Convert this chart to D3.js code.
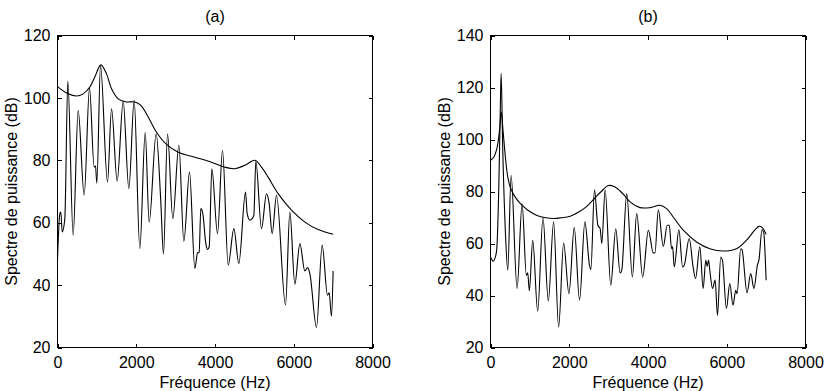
<!DOCTYPE html>
<html>
<head>
<meta charset="utf-8">
<script src="https://cdn.jsdelivr.net/npm/d3@7"></script>
<style>
  body { margin: 0; background: #fff; }
  text { font-family: "Liberation Sans", Arial, Helvetica, sans-serif; font-size: 16px; fill: #000; }
</style>
</head>
<body>
<div id="plot"></div>
<script>
// tick values
var xTicks = [0, 2000, 4000, 6000, 8000];
var yTicksA = [20, 40, 60, 80, 100, 120];
var yTicksB = [20, 40, 60, 80, 100, 120, 140];

// panel (a) : spectre FFT
var freqA = [0,59,85,119,186,262,398,525,677,813,931,965,999,1092,1270,1372,1515,1668,1812,1947,2091,2227,2328,2506,2624,2692,2794,2929,3082,3209,3353,3488,3556,3598,3640,3691,3767,3810,3852,3920,4064,4191,4335,4479,4605,4775,4817,4885,4944,4987,5037,5181,5308,5376,5452,5562,5791,5901,6028,6155,6282,6350,6409,6578,6722,6857,6900,6959,7000];
var specA = [48,62.9,63.4,57,61.3,105.3,56,96,68.8,103.2,77.8,78.2,72.7,110.4,73,96.5,73.3,98.9,70.9,99.2,51.7,89,60.2,88.5,66.6,49.9,88.5,61.3,84.8,54,76.2,45.3,50.3,50.6,64.5,62.9,53.3,51.4,52.2,77.3,56.5,83.2,46.4,58.1,46.9,69.8,62.9,60.8,61.3,62.4,79.7,58.1,69.3,66.1,56.5,68.8,33.6,63.4,40.3,53.3,44.5,45.6,43.7,26.4,52.8,36.8,37.5,30,44.5];
// panel (a) : enveloppe LPC
var envFreqA = [0,271,483,652,821,948,1101,1245,1372,1541,1752,1964,2117,2303,2514,2768,3065,3488,3911,4250,4504,4758,5012,5181,5350,5604,5943,6282,6620,7000];
var envA = [103.6,101.3,100.6,101.3,103.5,106.7,110.6,107.7,102.9,99.7,98.7,98.7,97.6,93.9,89.0,85.1,82.6,81.0,79.4,77.8,77.3,78.4,80.0,77.8,74.6,69.3,64.0,60.2,57.8,56.3];

// panel (b) : spectre FFT
var freqB = [0,68,152,211,245,270,312,380,439,523,675,802,911,945,987,1072,1198,1333,1468,1603,1730,1857,1992,2127,2262,2397,2515,2549,2641,2726,2785,2827,2911,3055,3181,3291,3333,3460,3603,3713,3865,4009,4135,4177,4262,4388,4490,4540,4599,4625,4667,4785,4878,4920,5046,5148,5207,5317,5401,5468,5502,5536,5570,5637,5705,5764,5848,5890,5992,6076,6160,6228,6262,6355,6388,6515,6608,6692,6777,6819,6895,6937,7000];
var specB = [54.8,53.2,56.8,81.7,108.6,125.5,95.8,63.8,49.7,86.2,42.7,75.3,47.8,48.7,41.8,61.2,34,69.9,37.9,68.3,27.9,60.2,40.7,66.1,38.2,68.3,51.6,50,80.7,67,65.7,60,80.7,44,65.7,48.7,49.7,79.2,47.1,71.5,47.1,65.1,56.4,56.4,73,58.9,67,67,58,58.7,51,65.3,51,51.6,61.9,50.7,46.5,58.7,42.7,53.6,51.2,53.6,49.7,42.7,45.9,32.4,54.8,53.6,35,44.6,36.3,42,40.7,58,57.6,41,48.4,42.7,51.6,53.8,65.3,64.4,45.9];
// panel (b) : enveloppe LPC
var envFreqB = [0,85,169,236,272,321,380,439,506,600,760,950,1181,1400,1603,1800,2025,2250,2447,2650,2800,2996,3150,3291,3420,3544,3798,4051,4304,4473,4641,4895,5232,5570,5907,6245,6498,6709,6819,6903,7000];
var envB = [92,93.3,97,104.5,110.7,103,93,85.5,81.5,78.5,75.3,72.8,70.8,69.9,69.6,69.9,70.5,72.2,74.3,77.5,79.8,82.3,81.8,80.2,78.2,76,73.8,73.8,74.7,73.4,70.2,65.1,60.6,58.0,57.1,58.0,61.2,65.1,66.6,66.1,63.5];

var svg = d3.select("#plot").append("svg")
    .attr("width", 830)
    .attr("height", 391);

function drawPanel(p) {
    var x = d3.scaleLinear().domain([0, 8000]).range([p.left, p.right]);
    var y = d3.scaleLinear().domain([p.yTicks[0], p.yTicks[p.yTicks.length - 1]]).range([p.bottom, p.top]);
    var g = svg.append("g");

    // bottom / left axes with labels, ticks pointing inside
    var bottom = g.append("g")
        .attr("transform", `translate(0,${p.bottom})`)
        .call(d3.axisBottom(x).tickValues(xTicks).tickFormat(d3.format("d")).tickSizeInner(-4).tickSizeOuter(0).tickPadding(9));
    var left = g.append("g")
        .attr("transform", `translate(${p.left},0)`)
        .call(d3.axisLeft(y).tickValues(p.yTicks).tickSizeInner(-4).tickSizeOuter(0).tickPadding(7));
    // top / right: ticks only
    var top = g.append("g")
        .attr("transform", `translate(0,${p.top})`)
        .call(d3.axisTop(x).tickValues(xTicks).tickFormat("").tickSizeInner(-4).tickSizeOuter(0));
    var right = g.append("g")
        .attr("transform", `translate(${p.right},0)`)
        .call(d3.axisRight(y).tickValues(p.yTicks).tickFormat("").tickSizeInner(-4).tickSizeOuter(0));

    [bottom, left, top, right].forEach(function(a) {
        a.select(".domain").remove();
        a.selectAll("line").attr("stroke", "#000").attr("shape-rendering", "crispEdges");
        a.selectAll("text").attr("font-family", null).attr("font-size", null);
    });

    g.append("rect")
        .attr("x", p.left).attr("y", p.top)
        .attr("width", p.right - p.left).attr("height", p.bottom - p.top)
        .attr("fill", "none").attr("stroke", "#000").attr("stroke-width", 1)
        .attr("shape-rendering", "crispEdges");

    var spec = p.freq.map((f, i) => [f, p.spec[i]]);
    var env = p.envFreq.map((f, i) => [f, p.env[i]]);

    g.append("path")
        .datum(spec)
        .attr("fill", "none").attr("stroke", "#000").attr("stroke-width", 1.1)
        .attr("d", d3.line().curve(d3.curveMonotoneX).x(d => x(d[0])).y(d => y(d[1])));

    g.append("path")
        .datum(env)
        .attr("fill", "none").attr("stroke", "#000").attr("stroke-width", 1.1)
        .attr("d", d3.line().curve(d3.curveCatmullRom).x(d => x(d[0])).y(d => y(d[1])));

    // titles and axis labels
    g.append("text")
        .attr("x", (p.left + p.right) / 2).attr("y", 22)
        .attr("text-anchor", "middle")
        .text(p.title);
    g.append("text")
        .attr("x", (p.left + p.right) / 2).attr("y", 387.5)
        .attr("text-anchor", "middle")
        .text("Fréquence (Hz)");
    g.append("text")
        .attr("transform", `translate(${p.left - 41},${(p.top + p.bottom) / 2}) rotate(-90)`)
        .attr("text-anchor", "middle")
        .text("Spectre de puissance (dB)");
}

drawPanel({ title: "(a)", left: 57.5, right: 372.5, top: 35.5, bottom: 347.5,
    yTicks: yTicksA, freq: freqA, spec: specA, envFreq: envFreqA, env: envA });
drawPanel({ title: "(b)", left: 490.5, right: 805.5, top: 35.5, bottom: 347.5,
    yTicks: yTicksB, freq: freqB, spec: specB, envFreq: envFreqB, env: envB });
</script>
</body>
</html>
